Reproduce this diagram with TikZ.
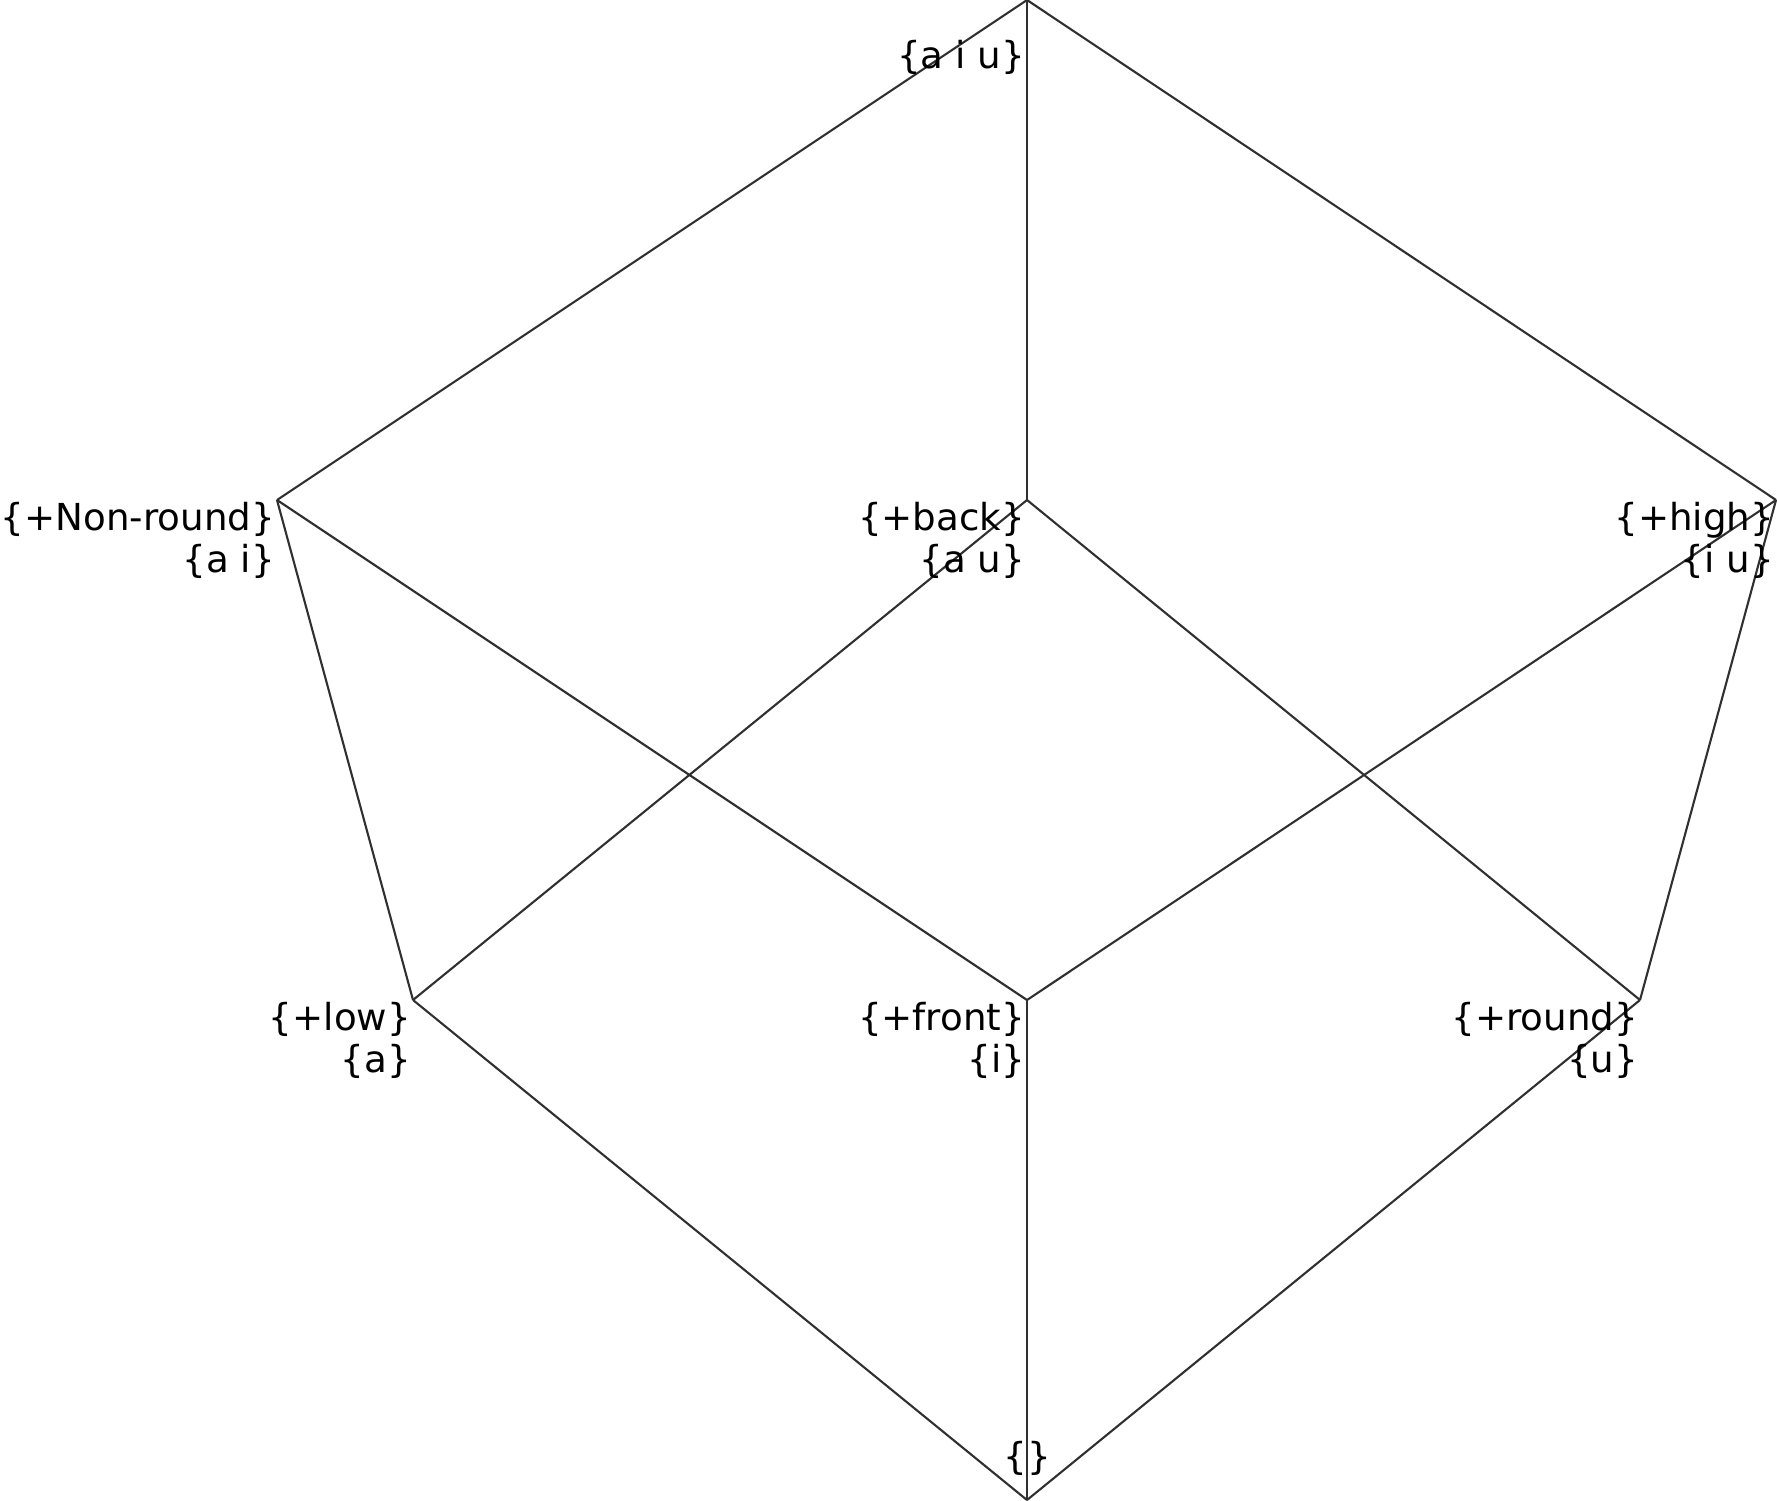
\documentclass[tikz,border=0pt]{standalone}
\usepackage{fontspec}
\setmainfont{DejaVu Sans}
\definecolor{edgecol}{HTML}{303030}
\begin{document}
\begin{tikzpicture}[x=0.5pt,y=-0.5pt,
  edge/.style={draw=edgecol,line width=1.05pt},
  lab/.style={inner sep=0pt,outer sep=0pt,align=right,anchor=north east,
    font=\fontsize{18.6}{21}\selectfont,text=black}]
\useasboundingbox (0,0) rectangle (1777,1500);
\coordinate (aiu) at (1027,0);
\coordinate (ai) at (277,500);
\coordinate (au) at (1027,500);
\coordinate (iu) at (1776,500);
\coordinate (a) at (413,1000);
\coordinate (i) at (1027,1000);
\coordinate (u) at (1640,1000);
\coordinate (e) at (1027,1500);
\draw[edge] (aiu) -- (ai);
\draw[edge] (aiu) -- (au);
\draw[edge] (aiu) -- (iu);
\draw[edge] (ai) -- (a);
\draw[edge] (ai) -- (i);
\draw[edge] (au) -- (a);
\draw[edge] (au) -- (u);
\draw[edge] (iu) -- (i);
\draw[edge] (iu) -- (u);
\draw[edge] (a) -- (e);
\draw[edge] (i) -- (e);
\draw[edge] (u) -- (e);
\node[lab] (laiu) at ([xshift=-1pt,yshift=-20pt]aiu) {\{a i u\}};
\node[lab] (lai) at ([xshift=-1pt,yshift=-1pt]ai) {\{+Non-round\}\\\{a i\}};
\node[lab] (lau) at ([xshift=-1pt,yshift=-1pt]au) {\{+back\}\\\{a u\}};
\node[lab] (liu) at ([xshift=-1pt,yshift=-1pt]iu) {\{+high\}\\\{i u\}};
\node[lab] (la) at ([xshift=-1pt,yshift=-1pt]a) {\{+low\}\\\{a\}};
\node[lab] (li) at ([xshift=-1pt,yshift=-1pt]i) {\{+front\}\\\{i\}};
\node[lab] (lu) at ([xshift=-1pt,yshift=-1pt]u) {\{+round\}\\\{u\}};
\node[lab,anchor=south] (le) at ([yshift=12pt]e) {\{\}};
\end{tikzpicture}
\end{document}
